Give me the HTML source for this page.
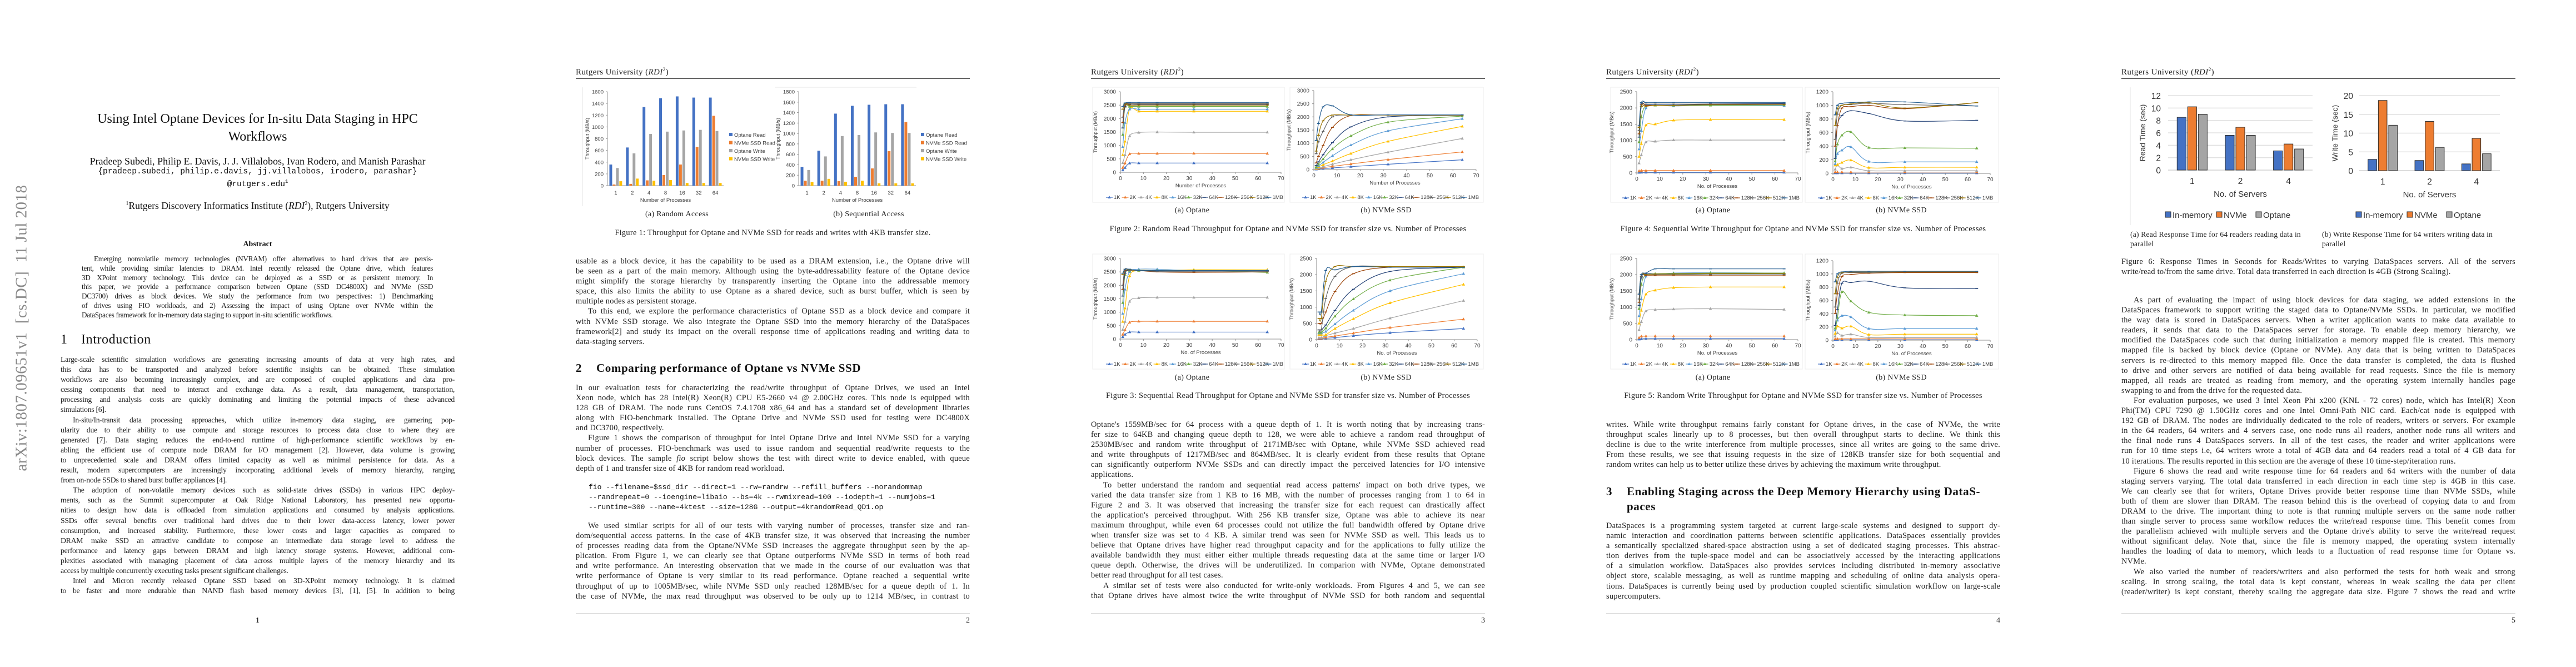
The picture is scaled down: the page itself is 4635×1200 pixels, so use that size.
<!DOCTYPE html>
<html><head><meta charset="utf-8">
<style>
html,body{margin:0;padding:0;background:#fff}
body{width:4635px;height:1200px;position:relative;overflow:hidden}
.pg{position:absolute;top:0;width:927px;height:1200px;background:#fff;overflow:hidden}
.hd{position:absolute;left:109px;top:120px;font:15px "Liberation Serif",serif;color:#222;letter-spacing:0.4px}
.hr{position:absolute;left:109px;top:140px;width:709px;height:2px;background:#666}
.fr{position:absolute;left:109px;top:1104px;width:709px;height:1px;background:#666}
.pn{position:absolute;right:109px;top:1109px;font:14px "Liberation Serif",serif;color:#222}
.tx{position:absolute;left:109px;width:709px;font:14.4px/18.1px "Liberation Serif",serif;color:#222;letter-spacing:0.25px}
.tx div{height:18.1px;text-align:justify;text-align-last:justify}
.tx div.e{text-align-last:left}
.tx div.i{text-indent:22px}
.p1{font-size:13.8px;letter-spacing:-0.3px;line-height:18.1px}
.ab{left:147px;width:632px;font-size:13.2px;letter-spacing:-0.3px}
.ab div{height:16.8px}
.sec{position:absolute;left:109px;font:bold 21px "Liberation Serif",serif;color:#111;letter-spacing:0.6px}
.sec span{display:inline-block;width:37px}
.cap{position:absolute;left:109px;width:709px;text-align:center;font:14.4px "Liberation Serif",serif;color:#222;letter-spacing:0.3px}
.sub{position:absolute;font:14px "Liberation Serif",serif;color:#222;letter-spacing:0.3px;transform:translateX(-50%);white-space:nowrap}
.code{position:absolute;left:132px;font:13px/18.1px "Liberation Mono",monospace;color:#111;white-space:pre}
svg{position:absolute;left:0;top:0}
</style></head>
<body>

<!-- PAGE 1 -->
<div class="pg" style="left:0">
  <div style="position:absolute;left:39px;top:590px;transform:translate(-50%,-50%) rotate(-90deg);font:29px 'Liberation Serif',serif;color:#8a8a8a;white-space:nowrap;letter-spacing:0.5px">arXiv:1807.09651v1&nbsp; [cs.DC]&nbsp; 11 Jul 2018</div>
  <div style="position:absolute;left:109px;width:709px;top:198px;text-align:center;font:24px/32px 'Liberation Serif',serif;color:#111">Using Intel Optane Devices for In-situ Data Staging in HPC<br>Workflows</div>
  <div style="position:absolute;left:109px;width:709px;top:281px;text-align:center;font:18px/18px 'Liberation Serif',serif;color:#111">Pradeep Subedi, Philip E. Davis, J. J. Villalobos, Ivan Rodero, and Manish Parashar</div>
  <div style="position:absolute;left:109px;width:709px;top:300px;text-align:center;font:14.5px/18px 'Liberation Mono',monospace;color:#111">{pradeep.subedi, philip.e.davis, jj.villalobos, irodero, parashar}<br>@rutgers.edu<sup style="font-size:9px">1</sup></div>
  <div style="position:absolute;left:109px;width:709px;top:360px;text-align:center;font:17.5px 'Liberation Serif',serif;color:#111"><sup style="font-size:10px">1</sup>Rutgers Discovery Informatics Institute (<i>RDI</i><sup style="font-size:10px">2</sup>), Rutgers University</div>
  <div style="position:absolute;left:109px;width:709px;top:432px;text-align:center;font:bold 14px 'Liberation Serif',serif;color:#111">Abstract</div>
  <div class="tx ab" style="top:457px">
    <div class="i">Emerging nonvolatile memory technologies (NVRAM) offer alternatives to hard drives that are persis-</div>
    <div>tent, while providing similar latencies to DRAM. Intel recently released the Optane drive, which features</div>
    <div>3D XPoint memory technology. This device can be deployed as a SSD or as persistent memory. In</div>
    <div>this paper, we provide a performance comparison between Optane (SSD DC4800X) and NVMe (SSD</div>
    <div>DC3700) drives as block devices. We study the performance from two perspectives: 1) Benchmarking</div>
    <div>of drives using FIO workloads, and 2) Assessing the impact of using Optane over NVMe within the</div>
    <div class="e">DataSpaces framework for in-memory data staging to support in-situ scientific workflows.</div>
  </div>
  <div class="sec" style="top:598px;font-weight:normal;font-size:24px"><span>1</span>Introduction</div>
  <div class="tx p1" style="top:638px">
    <div>Large-scale scientific simulation workflows are generating increasing amounts of data at very high rates, and</div>
    <div>this data has to be transported and analyzed before scientific insights can be obtained. These simulation</div>
    <div>workflows are also becoming increasingly complex, and are composed of coupled applications and data pro-</div>
    <div>cessing components that need to interact and exchange data. As a result, data management, transportation,</div>
    <div>processing and analysis costs are quickly dominating and limiting the potential impacts of these advanced</div>
    <div class="e">simulations [6].</div>
    <div class="i">In-situ/In-transit data processing approaches, which utilize in-memory data staging, are garnering pop-</div>
    <div>ularity due to their ability to use compute and storage resources to process data close to where they are</div>
    <div>generated [7]. Data staging reduces the end-to-end runtime of high-performance scientific workflows by en-</div>
    <div>abling the efficient use of compute node DRAM for I/O management [2]. However, data volume is growing</div>
    <div>to unprecedented scale and DRAM offers limited capacity as well as minimal persistence for data. As a</div>
    <div>result, modern supercomputers are increasingly incorporating additional levels of memory hierarchy, ranging</div>
    <div class="e">from on-node SSDs to shared burst buffer appliances [4].</div>
    <div class="i">The adoption of non-volatile memory devices such as solid-state drives (SSDs) in various HPC deploy-</div>
    <div>ments, such as the Summit supercomputer at Oak Ridge National Laboratory, has presented new opportu-</div>
    <div>nities to design how data is offloaded from simulation applications and consumed by analysis applications.</div>
    <div>SSDs offer several benefits over traditional hard drives due to their lower data-access latency, lower power</div>
    <div>consumption, and increased stability. Furthermore, these lower costs and larger capacities as compared to</div>
    <div>DRAM make SSD an attractive candidate to compose an intermediate data storage level to address the</div>
    <div>performance and latency gaps between DRAM and high latency storage systems. However, additional com-</div>
    <div>plexities associated with managing placement of data across multiple layers of the memory hierarchy and its</div>
    <div class="e">access by multiple concurrently executing tasks present significant challenges.</div>
    <div class="i">Intel and Micron recently released Optane SSD based on 3D-XPoint memory technology. It is claimed</div>
    <div>to be faster and more endurable than NAND flash based memory devices [3], [1], [5]. In addition to being</div>
  </div>
  <div style="position:absolute;left:0;width:927px;top:1109px;text-align:center;font:14px 'Liberation Serif',serif">1</div>
</div>

<!-- PAGE 2 -->
<div class="pg" style="left:927px">
  <div class="hd">Rutgers University (<i>RDI</i><sup style="font-size:9px">2</sup>)</div>
  <div class="hr"></div>
  <svg id="svg2" width="927" height="1200"></svg>
  <div class="sub" style="left:291px;top:378px">(a) Random Access</div>
  <div class="sub" style="left:636px;top:378px">(b) Sequential Access</div>
  <div class="cap" style="top:411px">Figure 1: Throughput for Optane and NVMe SSD for reads and writes with 4KB transfer size.</div>
  <div class="tx" style="top:461px">
    <div>usable as a block device, it has the capability to be used as a DRAM extension, i.e., the Optane drive will</div>
    <div>be seen as a part of the main memory. Although using the byte-addressability feature of the Optane device</div>
    <div>might simplify the storage hierarchy by transparently inserting the Optane into the addressable memory</div>
    <div>space, this also limits the ability to use Optane as a shared device, such as burst buffer, which is seen by</div>
    <div class="e">multiple nodes as persistent storage.</div>
    <div class="i">To this end, we explore the performance characteristics of Optane SSD as a block device and compare it</div>
    <div>with NVMe SSD storage. We also integrate the Optane SSD into the memory hierarchy of the DataSpaces</div>
    <div>framework[2] and study its impact on the overall response time of applications reading and writing data to</div>
    <div class="e">data-staging servers.</div>
  </div>
  <div class="sec" style="top:650px"><span>2</span>Comparing performance of Optane vs NVMe SSD</div>
  <div class="tx" style="top:689px">
    <div>In our evaluation tests for characterizing the read/write throughput of Optane Drives, we used an Intel</div>
    <div>Xeon node, which has 28 Intel(R) Xeon(R) CPU E5-2660 v4 @ 2.00GHz cores. This node is equipped with</div>
    <div>128 GB of DRAM. The node runs CentOS 7.4.1708 x86_64 and has a standard set of development libraries</div>
    <div>along with FIO-benchmark installed. The Optane Drive and NVMe SSD used for testing were DC4800X</div>
    <div class="e">and DC3700, respectively.</div>
    <div class="i">Figure 1 shows the comparison of throughput for Intel Optane Drive and Intel NVMe SSD for a varying</div>
    <div>number of processes. FIO-benchmark was used to issue random and sequential read/write requests to the</div>
    <div>block devices. The sample <i>fio</i> script below shows the test with direct write to device enabled, with queue</div>
    <div class="e">depth of 1 and transfer size of 4KB for random read workload.</div>
  </div>
  <div class="code" style="top:868px">fio --filename=$ssd_dir --direct=1 --rw=randrw --refill_buffers --norandommap
--randrepeat=0 --ioengine=libaio --bs=4k --rwmixread=100 --iodepth=1 --numjobs=1
--runtime=300 --name=4ktest --size=128G --output=4krandomRead_QD1.op</div>
  <div class="tx" style="top:937px">
    <div class="i">We used similar scripts for all of our tests with varying number of processes, transfer size and ran-</div>
    <div>dom/sequential access patterns. In the case of 4KB transfer size, it was observed that increasing the number</div>
    <div>of processes reading data from the Optane/NVMe SSD increases the aggregate throughput seen by the ap-</div>
    <div>plication. From Figure 1, we can clearly see that Optane outperforms NVMe SSD in terms of both read</div>
    <div>and write performance. An interesting observation that we made in the course of our evaluation was that</div>
    <div>write performance of Optane is very similar to its read performance. Optane reached a sequential write</div>
    <div>throughput of up to 1005MB/sec, while NVMe SSD only reached 128MB/sec for a queue depth of 1. In</div>
    <div>the case of NVMe, the max read throughput was observed to be only up to 1214 MB/sec, in contrast to</div>
  </div>
  <div class="fr"></div>
  <div class="pn">2</div>
</div>

<!-- PAGE 3 -->
<div class="pg" style="left:1854px">
  <div class="hd">Rutgers University (<i>RDI</i><sup style="font-size:9px">2</sup>)</div>
  <div class="hr"></div>
  <svg id="svg3" width="927" height="1200"></svg>
  <div class="sub" style="left:291px;top:371px">(a) Optane</div>
  <div class="sub" style="left:640px;top:371px">(b) NVMe SSD</div>
  <div class="cap" style="top:404px">Figure 2: Random Read Throughput for Optane and NVMe SSD for transfer size vs. Number of Processes</div>
  <div class="sub" style="left:291px;top:672px">(a) Optane</div>
  <div class="sub" style="left:640px;top:672px">(b) NVMe SSD</div>
  <div class="cap" style="top:704px">Figure 3: Sequential Read Throughput for Optane and NVMe SSD for transfer size vs. Number of Processes</div>
  <div class="tx" style="top:755px">
    <div>Optane's 1559MB/sec for 64 process with a queue depth of 1. It is worth noting that by increasing trans-</div>
    <div>fer size to 64KB and changing queue depth to 128, we were able to achieve a random read throughput of</div>
    <div>2530MB/sec and random write throughput of 2171MB/sec with Optane, while NVMe SSD achieved read</div>
    <div>and write throughputs of 1217MB/sec and 864MB/sec. It is clearly evident from these results that Optane</div>
    <div>can significantly outperform NVMe SSDs and can directly impact the perceived latencies for I/O intensive</div>
    <div class="e">applications.</div>
    <div class="i">To better understand the random and sequential read access patterns' impact on both drive types, we</div>
    <div>varied the data transfer size from 1 KB to 16 MB, with the number of processes ranging from 1 to 64 in</div>
    <div>Figure 2 and 3. It was observed that increasing the transfer size for each request can drastically affect</div>
    <div>the application's perceived throughput. With 256 KB transfer size, Optane was able to achieve its near</div>
    <div>maximum throughput, while even 64 processes could not utilize the full bandwidth offered by Optane drive</div>
    <div>when transfer size was set to 4 KB. A similar trend was seen for NVMe SSD as well. This leads us to</div>
    <div>believe that Optane drives have higher read throughput capacity and for the applications to fully utilize the</div>
    <div>available bandwidth they must either either multiple threads requesting data at the same time or larger I/O</div>
    <div>queue depth. Otherwise, the drives will be underutilized. In comparion with NVMe, Optane demonstrated</div>
    <div class="e">better read throughput for all test cases.</div>
    <div class="i">A similar set of tests were also conducted for write-only workloads. From Figures 4 and 5, we can see</div>
    <div>that Optane drives have almost twice the write throughput of NVMe SSD for both random and sequential</div>
  </div>
  <div class="fr"></div>
  <div class="pn">3</div>
</div>

<!-- PAGE 4 -->
<div class="pg" style="left:2781px">
  <div class="hd">Rutgers University (<i>RDI</i><sup style="font-size:9px">2</sup>)</div>
  <div class="hr"></div>
  <svg id="svg4" width="927" height="1200"></svg>
  <div class="sub" style="left:301px;top:371px">(a) Optane</div>
  <div class="sub" style="left:640px;top:371px">(b) NVMe SSD</div>
  <div class="cap" style="top:404px">Figure 4: Sequential Write Throughput for Optane and NVMe SSD for transfer size vs. Number of Processes</div>
  <div class="sub" style="left:301px;top:672px">(a) Optane</div>
  <div class="sub" style="left:640px;top:672px">(b) NVMe SSD</div>
  <div class="cap" style="top:704px">Figure 5: Random Write Throughput for Optane and NVMe SSD for transfer size vs. Number of Processes</div>
  <div class="tx" style="top:755px">
    <div>writes. While write throughput remains fairly constant for Optane drives, in the case of NVMe, the write</div>
    <div>throughput scales linearly up to 8 processes, but then overall throughput starts to decline. We think this</div>
    <div>decline is due to the write interference from multiple processes, since all writes are going to the same drive.</div>
    <div>From these results, we see that issuing requests in the size of 128KB transfer size for both sequential and</div>
    <div class="e">random writes can help us to better utilize these drives by achieving the maximum write throughput.</div>
  </div>
  <div class="sec" style="top:871px;line-height:27px;white-space:nowrap"><span>3</span>Enabling Staging across the Deep Memory Hierarchy using DataS-<br><span></span>paces</div>
  <div class="tx" style="top:937px">
    <div>DataSpaces is a programming system targeted at current large-scale systems and designed to support dy-</div>
    <div>namic interaction and coordination patterns between scientific applications. DataSpaces essentially provides</div>
    <div>a semantically specialized shared-space abstraction using a set of dedicated staging processes. This abstrac-</div>
    <div>tion derives from the tuple-space model and can be associatively accessed by the interacting applications</div>
    <div>of a simulation workflow. DataSpaces also provides services including distributed in-memory associative</div>
    <div>object store, scalable messaging, as well as runtime mapping and scheduling of online data analysis opera-</div>
    <div>tions. DataSpaces is currently being used by production coupled scientific simulation workflow on large-scale</div>
    <div class="e">supercomputers.</div>
  </div>
  <div class="fr"></div>
  <div class="pn">4</div>
</div>

<!-- PAGE 5 -->
<div class="pg" style="left:3708px">
  <div class="hd">Rutgers University (<i>RDI</i><sup style="font-size:9px">2</sup>)</div>
  <div class="hr"></div>
  <svg id="svg5" width="927" height="1200"></svg>
  <div style="position:absolute;left:125px;top:413px;width:345px;font:13.6px/17px 'Liberation Serif',serif;color:#222;letter-spacing:0.2px">(a) Read Response Time for 64 readers reading data in<br>parallel</div>
  <div style="position:absolute;left:470px;top:413px;width:345px;font:13.6px/17px 'Liberation Serif',serif;color:#222;letter-spacing:0.2px">(b) Write Response Time for 64 writers writing data in<br>parallel</div>
  <div class="tx" style="top:462px">
    <div>Figure 6: Response Times in Seconds for Reads/Writes to varying DataSpaces servers. All of the servers</div>
    <div class="e">write/read to/from the same drive. Total data transferred in each direction is 4GB (Strong Scaling).</div>
  </div>
  <div class="tx" style="top:531px">
    <div class="i">As part of evaluating the impact of using block devices for data staging, we added extensions in the</div>
    <div>DataSpaces framework to support writing the staged data to Optane/NVMe SSDs. In particular, we modified</div>
    <div>the way data is stored in DataSpaces servers. When a writer application wants to make data available to</div>
    <div>readers, it sends that data to the DataSpaces server for storage. To enable deep memory hierarchy, we</div>
    <div>modified the DataSpaces code such that during initialization a memory mapped file is created. This memory</div>
    <div>mapped file is backed by block device (Optane or NVMe). Any data that is being written to DataSpaces</div>
    <div>servers is re-directed to this memory mapped file. Once the data transfer is completed, the data is flushed</div>
    <div>to drive and other servers are notified of data being available for read requests. Since the file is memory</div>
    <div>mapped, all reads are treated as reading from memory, and the operating system internally handles page</div>
    <div class="e">swapping to and from the drive for the requested data.</div>
    <div class="i">For evaluation purposes, we used 3 Intel Xeon Phi x200 (KNL - 72 cores) node, which has Intel(R) Xeon</div>
    <div>Phi(TM) CPU 7290 @ 1.50GHz cores and one Intel Omni-Path NIC card. Each/cat node is equipped with</div>
    <div>192 GB of DRAM. The nodes are individually dedicated to the role of readers, writers or servers. For example</div>
    <div>in the 64 readers, 64 writers and 4 servers case, one node runs all readers, another node runs all writers and</div>
    <div>the final node runs 4 DataSpaces servers. In all of the test cases, the reader and writer applications were</div>
    <div>run for 10 time steps i.e, 64 writers wrote a total of 4GB data and 64 readers read a total of 4 GB data for</div>
    <div class="e">10 iterations. The results reported in this section are the average of these 10 time-step/iteration runs.</div>
    <div class="i">Figure 6 shows the read and write response time for 64 readers and 64 writers with the number of data</div>
    <div>staging servers varying. The total data transferred in each direction in each time step is 4GB in this case.</div>
    <div>We can clearly see that for writers, Optane Drives provide better response time than NVMe SSDs, while</div>
    <div>both of them are slower than DRAM. The reason behind this is the overhead of copying data to and from</div>
    <div>DRAM to the drive. The important thing to note is that running multiple servers on the same node rather</div>
    <div>than single server to process same workflow reduces the write/read response time. This benefit comes from</div>
    <div>the parallelism achieved with multiple servers and the Optane drive's ability to serve the write/read request</div>
    <div>without significant delay. Note that, since the file is memory mapped, the operating system internally</div>
    <div>handles the loading of data to memory, which leads to a fluctuation of read response time for Optane vs.</div>
    <div class="e">NVMe.</div>
    <div class="i">We also varied the number of readers/writers and also performed the tests for both weak and strong</div>
    <div>scaling. In strong scaling, the total data is kept constant, whereas in weak scaling the data per client</div>
    <div>(reader/writer) is kept constant, thereby scaling the aggregate data size. Figure 7 shows the read and write</div>
  </div>
  <div class="fr"></div>
  <div class="pn">5</div>
</div>

<script>
// ---------- DATA ----------
const processCounts = [1, 2, 4, 8, 16, 32, 64];
const procCategories = ['1', '2', '4', '8', '16', '32', '64'];
const barSeriesNames = ['Optane Read', 'NVMe SSD Read', 'Optane Write', 'NVMe SSD Write'];
const fig1aOptaneRead = [360, 650, 1340, 1490, 1520, 1500, 1500];
const fig1aNvmeRead = [20, 30, 90, 180, 360, 660, 1190];
const fig1aOptaneWrite = [300, 550, 880, 920, 940, 950, 930];
const fig1aNvmeWrite = [75, 120, 85, 95, 45, 45, 45];
const fig1bOptaneRead = [360, 670, 1380, 1530, 1550, 1560, 1560];
const fig1bNvmeRead = [95, 95, 85, 170, 330, 660, 1220];
const fig1bOptaneWrite = [300, 560, 950, 970, 1020, 1010, 1010];
const fig1bNvmeWrite = [70, 130, 75, 95, 45, 45, 45];

const sizeLabels = ['1K', '2K', '4K', '8K', '16K', '32K', '64K', '128K', '256K', '512K', '1MB'];
const xTicks = [0, 10, 20, 30, 40, 50, 60, 70];

const fig2a = [
 [80,170,340,345,345,345,345],[170,340,680,700,700,705,700],[350,650,1350,1480,1500,1490,1490],
 [650,1150,2350,2270,2270,2270,2270],[950,1850,2350,2350,2350,2350,2350],[1400,2450,2450,2450,2450,2450,2450],
 [1650,2450,2530,2530,2530,2530,2530],[1850,2500,2550,2550,2550,2550,2550],[2050,2550,2560,2560,2560,2560,2560],
 [2350,2550,2500,2500,2500,2500,2500],[2450,2580,2600,2600,2600,2600,2600]];
const fig2b = [
 [10,20,35,60,110,200,370],[20,40,70,120,210,380,670],[30,60,110,200,370,660,1180],
 [50,100,180,320,610,1070,1640],[70,140,270,520,930,1470,1930],[100,200,400,780,1280,1800,2030],
 [150,290,560,1020,1620,2000,2060],[250,500,910,1600,2050,2070,2070],[600,1050,1450,2000,2070,2070,2070],
 [700,1300,1850,2070,2070,2070,2070],[1100,1750,2380,2420,2080,2080,2080]];
const fig3a = [
 [80,170,260,260,260,260,260],[170,340,620,660,660,660,660],[350,650,1400,1530,1550,1550,1550],
 [650,1150,2350,2550,2550,2580,2580],[950,1850,2500,2600,2600,2550,2550],[1350,2400,2550,2550,2550,2550,2480],
 [1600,2450,2550,2550,2550,2550,2550],[1850,2550,2550,2550,2500,2480,2500],[2000,2600,2550,2550,2520,2520,2520],
 [2400,2600,2580,2550,2550,2550,2550],[2450,2600,2600,2550,2550,2550,2550]];
const fig3b = [
 [20,20,40,60,120,210,340],[40,40,70,110,200,370,630],[60,60,120,200,340,660,1200],
 [150,150,150,340,640,1130,1700],[200,200,250,480,900,1500,2030],[220,220,350,720,1250,1830,2230],
 [300,300,450,900,1550,2100,2230],[500,500,850,1480,2030,2230,2230],[300,300,1270,1950,2250,2250,2250],
 [650,650,1800,2250,2250,2250,2250],[850,850,2130,2150,2250,2230,2230]];
const fig4a = [
 [10,15,15,15,15,15,15],[60,70,70,70,70,70,70],[300,550,950,970,1010,1010,1010],
 [500,900,1470,1500,1620,1640,1640],[730,1300,2000,2080,2060,2080,2070],[950,1720,2080,2080,2080,2080,2090],
 [1100,2050,2100,2100,2100,2120,2130],[1200,2100,2080,2080,2080,2100,2100],[1300,2150,2150,2150,2150,2150,2150],
 [1400,2050,2050,2080,2080,2100,2100],[1450,2160,2170,2170,2170,2170,2170]];
const fig4b = [
 [5,5,5,5,5,5,5],[20,20,20,20,20,20,20],[60,120,70,90,40,40,40],
 [120,130,160,195,85,90,90],[140,290,340,390,175,170,170],[180,430,560,610,380,375,370],
 [220,700,850,920,880,770,780],[400,700,960,980,1000,950,1040],[500,870,1000,1010,1030,1010,990],
 [700,950,1000,1020,1040,960,1040],[860,1000,1030,1040,1050,1050,990]];
const fig5a = [
 [10,20,30,30,30,30,30],[60,100,110,110,110,110,110],[300,550,880,920,940,950,930],
 [500,900,1400,1520,1600,1620,1620],[730,1250,1950,2000,2050,2060,2050],[950,1700,2000,2030,2040,2050,2050],
 [1050,1900,2020,2020,2020,2030,2030],[1150,1950,1970,1970,1970,1970,1970],[1250,1950,2000,2000,2000,2000,2000],
 [1400,2000,2000,2020,2020,2030,2030],[1400,2000,2050,2180,2180,2180,2180]];
const fig5b = [
 [5,5,5,5,5,5,5],[20,20,20,20,20,20,20],[60,110,70,90,40,40,40],
 [100,210,180,210,85,90,90],[150,300,370,350,175,175,175],[180,340,730,590,420,380,370],
 [220,460,860,870,890,790,780],[400,700,960,990,1010,1020,1020],[500,860,1010,1020,1020,1030,1030],
 [700,950,1020,1030,1030,1030,1030],[880,1000,1030,1040,1040,1040,1040]];

const serverCategories = ['1', '2', '4'];
const fig6SeriesNames = ['In-memory', 'NVMe', 'Optane'];
const fig6aInMemory = [8.5, 5.6, 3.1];
const fig6aNvme = [10.2, 6.9, 4.2];
const fig6aOptane = [9.0, 5.6, 3.4];
const fig6bInMemory = [3.0, 2.7, 1.8];
const fig6bNvme = [18.7, 13.1, 8.6];
const fig6bOptane = [12.1, 6.2, 4.5];

// ---------- DRAWING ----------
const NS = 'http://www.w3.org/2000/svg';
const OFF = ['#4472C4', '#ED7D31', '#A5A5A5', '#FFC000'];
const LC = ['#4472C4','#ED7D31','#A5A5A5','#FFC000','#5B9BD5','#70AD47','#264478','#9E480E','#636363','#997300','#255E91'];
function el(parent, tag, attrs) {
  const e = document.createElementNS(NS, tag);
  for (const k in attrs) e.setAttribute(k, attrs[k]);
  parent.appendChild(e);
  return e;
}
function txt(parent, x, y, s, size, anchor, extra) {
  const t = el(parent, 'text', Object.assign({x: x, y: y, 'font-size': size, 'text-anchor': anchor || 'middle', 'font-family': 'Liberation Sans, sans-serif', fill: '#404040'}, extra || {}));
  t.textContent = s;
  return t;
}
function smooth(pts) {
  let d = 'M' + pts[0][0] + ',' + pts[0][1];
  for (let i = 0; i < pts.length - 1; i++) {
    const p0 = pts[i - 1] || pts[i], p1 = pts[i], p2 = pts[i + 1], p3 = pts[i + 2] || p2;
    const c1 = [p1[0] + (p2[0] - p0[0]) / 6, p1[1] + (p2[1] - p0[1]) / 6];
    const c2 = [p2[0] - (p3[0] - p1[0]) / 6, p2[1] - (p3[1] - p1[1]) / 6];
    d += ' C' + c1[0] + ',' + c1[1] + ' ' + c2[0] + ',' + c2[1] + ' ' + p2[0] + ',' + p2[1];
  }
  return d;
}
function marker(g, i, x, y, color) {
  if (i < 6) {
    const m = el(g, 'path', {d: 'M' + x + ',' + (y - 3) + ' L' + (x + 2.8) + ',' + (y + 2) + ' L' + (x - 2.8) + ',' + (y + 2) + 'Z', fill: color});
    return m;
  }
  return el(g, 'rect', {x: x - 2.5, y: y - 0.8, width: 5, height: 1.6, fill: color});
}

function lineChart(svg, c, series, name) {
  const g = el(svg, 'g', {});
  
  
  const sx = v => c.x0 + v / 70 * (c.x1 - c.x0);
  const sy = v => c.yb - v / c.ymax * (c.yb - c.yt);
  el(g, 'rect', {x: c.fx, y: c.fy, width: c.fw, height: c.fh, fill: 'none', stroke: '#ececec', 'stroke-width': 1});
  const yax = el(g, 'line', {x1: c.x0, y1: c.yt, x2: c.x0, y2: c.yb, stroke: '#8c8c8c', 'stroke-width': 1});
  
  const xax = el(g, 'line', {x1: c.x0, y1: c.yb, x2: c.x1, y2: c.yb, stroke: '#8c8c8c', 'stroke-width': 1});
  
  for (let v = 0; v <= c.ymax; v += c.ystep) {
    el(g, 'line', {x1: c.x0 - 3, y1: sy(v), x2: c.x0, y2: sy(v), stroke: '#8c8c8c'});
    const t = txt(g, c.x0 - 8, sy(v) + 3.5, String(v), 10, 'end');
    
  }
  xTicks.forEach(v => {
    el(g, 'line', {x1: sx(v), y1: c.yb, x2: sx(v), y2: c.yb + 3, stroke: '#8c8c8c'});
    const t = txt(g, sx(v), c.yb + 14, String(v), 10);
    
  });
  const xt = txt(g, (c.x0 + c.x1) / 2, c.yb + 27, c.xtitle, 9.5);
  
  const yt = txt(g, 0, 0, 'Throughput (MB/s)', 9, 'middle', {transform: 'translate(' + (c.x0 - 42) + ',' + ((c.yt + c.yb) / 2) + ') rotate(-90)', 'font-family': 'Liberation Sans Narrow, Liberation Sans, sans-serif'});
  
  series.forEach((s, i) => {
    const pts = s.map((v, j) => [sx(processCounts[j]), sy(v)]);
    const p = el(g, 'path', {d: smooth(pts), fill: 'none', stroke: LC[i], 'stroke-width': 1.2});
    
    
    pts.forEach(pt => {
      const m = marker(g, i, pt[0], pt[1], LC[i]);
      
    });
  });
  const step = (c.lx1 - c.lx0) / 11;
  sizeLabels.forEach((lab, i) => {
    const x = c.lx0 + i * step;
    const lg = el(g, 'g', {});
    
    
    el(lg, 'line', {x1: x, y1: c.ly - 3, x2: x + 12, y2: c.ly - 3, stroke: LC[i], 'stroke-width': 1.2});
    marker(lg, i, x + 6, c.ly - 3, LC[i]);
    txt(lg, x + 14, c.ly, lab, 9.5, 'start');
  });
}

function fig1Chart(svg, c, series, name) {
  const g = el(svg, 'g', {});
  
  
  const n = procCategories.length, band = (c.x1 - c.x0) / n, bw = band * 0.2;
  const sy = v => c.yb - v / c.ymax * (c.yb - c.yt);
  if (c.frameLeft) el(g, 'line', {x1: 121, y1: 157, x2: 121, y2: 371, stroke: '#e4e4e4'});
  if (c.frameTop) el(g, 'line', {x1: 467, y1: 157, x2: 722, y2: 157, stroke: '#e4e4e4'});
  el(g, 'line', {x1: c.x0, y1: c.yt, x2: c.x0, y2: c.yb, stroke: '#999'});
  el(g, 'line', {x1: c.x0, y1: c.yb, x2: c.x1, y2: c.yb, stroke: '#999'});
  for (let v = 0; v <= c.ymax; v += 200) {
    el(g, 'line', {x1: c.x0 - 3, y1: sy(v), x2: c.x0, y2: sy(v), stroke: '#999'});
    const t = txt(g, c.x0 - 7, sy(v) + 3.5, String(v), 9.5, 'end');
    
  }
  procCategories.forEach((cat, i) => {
    const t = txt(g, c.x0 + band * (i + 0.5), c.yb + 16, cat, 9.5);
    
  });
  const xt = txt(g, (c.x0 + c.x1) / 2, c.yb + 29, 'Number of Processes', 9.5);
  
  const yt = txt(g, 0, 0, 'Throughput (MB/s)', 9, 'middle', {transform: 'translate(' + c.ytx + ',' + ((c.yt + c.yb) / 2) + ') rotate(-90)'});
  
  series.forEach((s, k) => {
    s.forEach((v, i) => {
      const x = c.x0 + band * (i + 0.5) - 2 * bw + k * bw;
      const r = el(g, 'rect', {x: x + 0.5, y: sy(v), width: bw - 1, height: c.yb - sy(v), fill: OFF[k]});
      
      
    });
    const lg = el(g, 'g', {});
    
    
    el(lg, 'rect', {x: c.lx, y: c.ly + k * 14.5 - 7, width: 6, height: 6, fill: OFF[k]});
    txt(lg, c.lx + 9, c.ly + k * 14.5, barSeriesNames[k], 9.5, 'start');
  });
}

function fig6Chart(svg, c, series, name) {
  const g = el(svg, 'g', {});
  
  
  const n = serverCategories.length, band = (c.x1 - c.x0) / n, bw = band * 0.185, gap = 3;
  const sy = v => c.yb - v / c.ymax * (c.yb - c.yt);
  if (c.frameLeft) el(g, 'line', {x1: 125, y1: 157, x2: 125, y2: 405, stroke: '#e4e4e4'});
  for (let v = 0; v <= c.ymax; v += c.ystep) {
    const gl = el(g, 'line', {x1: c.x0, y1: sy(v), x2: c.x1, y2: sy(v), stroke: v === 0 ? '#d0d0d0' : '#e0e0e0', 'stroke-width': 1.5});
    
    const t = txt(g, c.ylx, sy(v) + 6, String(v), 15.5, 'end', {fill: '#333'});
    
  }
  serverCategories.forEach((cat, i) => {
    const t = txt(g, c.x0 + band * (i + 0.5), c.yb + 25, cat, 15.5, 'middle', {fill: '#333'});
    
  });
  const xt = txt(g, (c.x0 + c.x1) / 2, c.yb + 48, 'No. of Servers', 15, 'middle', {fill: '#333'});
  
  const yt = txt(g, 0, 0, c.ytitle, 14, 'middle', {fill: '#333', transform: 'translate(' + c.ytx + ',' + ((c.yt + c.yb) / 2) + ') rotate(-90)'});
  
  const cols = ['#4472C4', '#ED7D31', '#A5A5A5'];
  series.forEach((s, k) => {
    s.forEach((v, i) => {
      const cx = c.x0 + band * (i + 0.5);
      const x = cx + (k - 1) * (bw + gap) - bw / 2;
      const r = el(g, 'rect', {x: x, y: sy(v), width: bw, height: c.yb - sy(v), fill: cols[k], stroke: '#2b2b2b', 'stroke-width': 1});
      
      
    });
  });
  const offs = [0, 92, 163];
  fig6SeriesNames.forEach((nm, k) => {
    const lg = el(g, 'g', {});
    
    
    el(lg, 'rect', {x: c.lx + offs[k], y: c.ly - 11, width: 10, height: 10, fill: cols[k], stroke: '#2b2b2b'});
    txt(lg, c.lx + offs[k] + 13, c.ly, nm, 15, 'start', {fill: '#333'});
  });
}

const s2 = document.getElementById('svg2');
fig1Chart(s2, {x0: 166, x1: 375, yt: 165, yb: 334, ymax: 1600, ytx: 133, lx: 385, ly: 246, frameLeft: true},
  [fig1aOptaneRead, fig1aNvmeRead, fig1aOptaneWrite, fig1aNvmeWrite], 'figure-1a-random-access');
fig1Chart(s2, {x0: 510, x1: 721, yt: 165, yb: 334, ymax: 1800, ytx: 476, lx: 730, ly: 246, frameTop: true},
  [fig1bOptaneRead, fig1bNvmeRead, fig1bOptaneWrite, fig1bNvmeWrite], 'figure-1b-sequential-access');

const s3 = document.getElementById('svg3');
lineChart(s3, {x0: 162, x1: 451, yt: 165, yb: 310, ymax: 3000, ystep: 500, xtitle: 'Number of Processes', lx0: 136, lx1: 450, ly: 358, fx: 112, fy: 157, fw: 345, fh: 207}, fig2a, 'figure-2a-optane');
lineChart(s3, {x0: 510, x1: 802, yt: 163, yb: 305, ymax: 3000, ystep: 500, xtitle: 'Number of Processes', lx0: 489, lx1: 802, ly: 358, fx: 467, fy: 157, fw: 348, fh: 207}, fig2b, 'figure-2b-nvme');
lineChart(s3, {x0: 162, x1: 451, yt: 465, yb: 610, ymax: 3000, ystep: 500, xtitle: 'No. of Processes', lx0: 136, lx1: 450, ly: 658, fx: 112, fy: 457, fw: 345, fh: 207}, fig3a, 'figure-3a-optane');
lineChart(s3, {x0: 515, x1: 804, yt: 465, yb: 611, ymax: 2500, ystep: 500, xtitle: 'No. of Processes', lx0: 489, lx1: 802, ly: 658, fx: 467, fy: 457, fw: 348, fh: 207}, fig3b, 'figure-3b-nvme');

const s4 = document.getElementById('svg4');
lineChart(s4, {x0: 164, x1: 454, yt: 165, yb: 311, ymax: 2500, ystep: 500, xtitle: 'No. of Processes', lx0: 138, lx1: 452, ly: 359, fx: 117, fy: 157, fw: 345, fh: 207}, fig4a, 'figure-4a-optane');
lineChart(s4, {x0: 517, x1: 800, yt: 165, yb: 312, ymax: 1200, ystep: 200, xtitle: 'No. of Processes', lx0: 490, lx1: 800, ly: 359, fx: 467, fy: 157, fw: 348, fh: 207}, fig4b, 'figure-4b-nvme');
lineChart(s4, {x0: 164, x1: 454, yt: 465, yb: 611, ymax: 2500, ystep: 500, xtitle: 'No. of Processes', lx0: 138, lx1: 452, ly: 658, fx: 117, fy: 457, fw: 345, fh: 207}, fig5a, 'figure-5a-optane');
lineChart(s4, {x0: 517, x1: 800, yt: 469, yb: 612, ymax: 1200, ystep: 200, xtitle: 'No. of Processes', lx0: 490, lx1: 800, ly: 658, fx: 467, fy: 457, fw: 348, fh: 207}, fig5b, 'figure-5b-nvme');

const s5 = document.getElementById('svg5');
fig6Chart(s5, {x0: 193, x1: 453, yt: 172, yb: 306, ymax: 12, ystep: 2, ylx: 180, ytx: 152, ytitle: 'Read Time (sec)', lx: 188, ly: 392, frameLeft: true},
  [fig6aInMemory, fig6aNvme, fig6aOptane], 'figure-6a-read-time');
fig6Chart(s5, {x0: 537, x1: 790, yt: 172, yb: 307, ymax: 20, ystep: 5, ylx: 526, ytx: 498, ytitle: 'Write Time (sec)', lx: 531, ly: 392},
  [fig6bInMemory, fig6bNvme, fig6bOptane], 'figure-6b-write-time');
</script>
</body></html>
